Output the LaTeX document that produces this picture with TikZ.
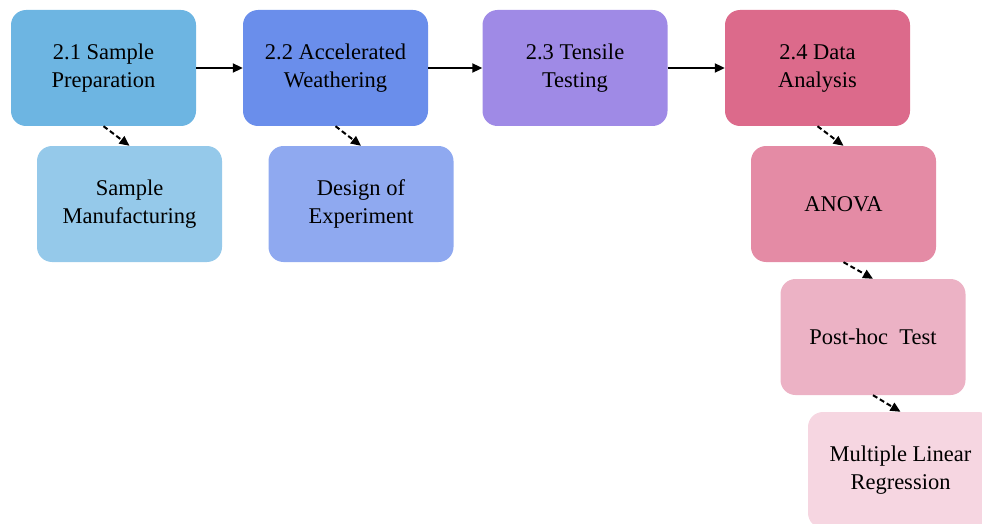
\documentclass[tikz,border=0pt]{standalone}
\usepackage{fontspec}
\setmainfont{Liberation Serif}
\usetikzlibrary{arrows.meta}
\definecolor{cA}{HTML}{6DB5E2}
\definecolor{cAa}{HTML}{95C9EA}
\definecolor{cB}{HTML}{6A8EEB}
\definecolor{cBa}{HTML}{8FA9F0}
\definecolor{cC}{HTML}{9F8AE6}
\definecolor{cD}{HTML}{DC6A8B}
\definecolor{cDa}{HTML}{E48BA5}
\definecolor{cDb}{HTML}{ECB2C5}
\definecolor{cDc}{HTML}{F6D6E1}
\tikzset{
  x=1pt,y=-1pt,
  stepbox/.style={draw=none, rounded corners=15pt, minimum width=185pt, minimum height=116pt,
    inner sep=0pt, align=center, font=\fontsize{22.5}{28}\selectfont},
  flow/.style={line width=2pt, -{Triangle[length=10pt,width=9pt]}},
  sub/.style={line width=2pt, dash pattern=on 5pt off 3pt, -{Triangle[length=10pt,width=9pt]}}
}
\begin{document}
\begin{tikzpicture}
\useasboundingbox (0,0) rectangle (982,524);
\node[stepbox, fill=cA] (b1) at (103.5,68) {2.1 Sample\\Preparation};
\node[stepbox, fill=cB] (b2) at (335.5,68) {2.2 Accelerated\\Weathering};
\node[stepbox, fill=cC] (b3) at (575,68) {2.3 Tensile\\Testing};
\node[stepbox, fill=cD] (b4) at (817.5,68) {2.4 Data\\Analysis};
\node[stepbox, fill=cAa] (c1) at (129.5,204) {Sample\\Manufacturing};
\node[stepbox, fill=cBa] (c2) at (361,204) {Design of\\Experiment};
\node[stepbox, fill=cDa] (anova) at (843.5,204) {ANOVA};
\node[stepbox, fill=cDb] (post) at (873,337) {Post-hoc\ \ Test};
\node[stepbox, fill=cDc] (mlr) at (900.5,470) {Multiple Linear\\Regression};
\draw[flow] (b1) -- (b2);
\draw[flow] (b2) -- (b3);
\draw[flow] (b3) -- (b4);
\draw[sub] (b1.south) -- (c1.north);
\draw[sub] (b2.south) -- (c2.north);
\draw[sub] (b4.south) -- (anova.north);
\draw[sub] (anova.south) -- (post.north);
\draw[sub] (post.south) -- (mlr.north);
\end{tikzpicture}
\end{document}
